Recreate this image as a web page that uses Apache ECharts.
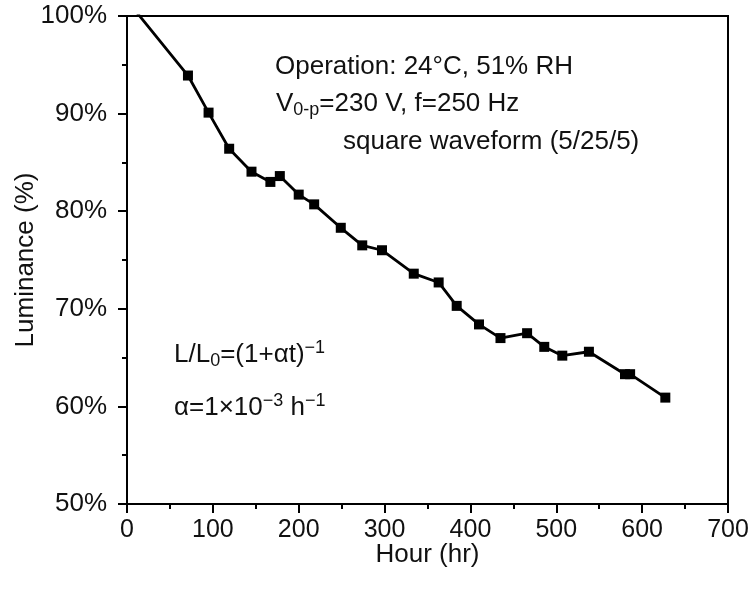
<!DOCTYPE html>
<html>
<head>
<meta charset="utf-8">
<script src="https://cdn.jsdelivr.net/npm/echarts@6/dist/echarts.min.js"></script>
<style>html,body{margin:0;padding:0;background:#fff}#c{width:753px;height:593px}</style>
</head>
<body>
<div id="c"></div>
<script>
var hours = [0, 71, 95, 119, 145, 167, 178, 200, 218, 249, 274, 297, 334, 363, 384, 410, 435, 466, 486, 507, 538, 580, 586, 627];
var luminance = [101.6, 93.9, 90.1, 86.4, 84.05, 83.0, 83.6, 81.7, 80.7, 78.3, 76.5, 76.0, 73.6, 72.7, 70.3, 68.4, 67.0, 67.5, 66.1, 65.2, 65.6, 63.3, 63.3, 60.9];
var xTicks = {min: 0, max: 700, interval: 100};
var yTicks = {min: 50, max: 100, interval: 10};

var FONT = '"Liberation Sans", Arial, sans-serif';
var points = hours.map(function (h, i) { return [h, luminance[i]]; });

var chart = echarts.init(document.getElementById('c'), null, {renderer: 'canvas'});
chart.setOption({
  animation: false,
  backgroundColor: '#fff',
  grid: {left: 127, right: 25, top: 16, bottom: 89, containLabel: false, outerBoundsMode: 'none',
    show: true, borderColor: '#000', borderWidth: 2, backgroundColor: 'transparent'},
  xAxis: {
    type: 'value', min: xTicks.min, max: xTicks.max, interval: xTicks.interval,
    name: 'Hour (hr)', nameLocation: 'middle', nameGap: 38, nameMoveOverlap: false,
    nameTextStyle: {fontFamily: FONT, fontSize: 26, color: '#111'},
    axisLine: {show: true, onZero: false, lineStyle: {color: '#000', width: 2}},
    axisTick: {show: true, inside: false, length: 9, lineStyle: {color: '#000', width: 2}},
    minorTick: {show: true, splitNumber: 2, length: 5, lineStyle: {color: '#000', width: 2}},
    axisLabel: {fontFamily: FONT, fontSize: 25, color: '#111', margin: 14},
    splitLine: {show: false}
  },
  yAxis: {
    type: 'value', min: yTicks.min, max: yTicks.max, interval: yTicks.interval,
    name: 'Luminance (%)', nameLocation: 'middle', nameGap: 88, nameRotate: 90, nameMoveOverlap: false,
    nameTextStyle: {fontFamily: FONT, fontSize: 26, color: '#111'},
    axisLine: {show: true, onZero: false, lineStyle: {color: '#000', width: 2}},
    axisTick: {show: true, inside: false, length: 9, lineStyle: {color: '#000', width: 2}},
    minorTick: {show: true, splitNumber: 2, length: 5, lineStyle: {color: '#000', width: 2}},
    axisLabel: {fontFamily: FONT, fontSize: 26, color: '#111', margin: 20, formatter: '{value}%'},
    splitLine: {show: false}
  },
  series: [{
    type: 'line',
    data: points,
    clip: true,
    symbol: 'rect',
    symbolSize: 10,
    showAllSymbol: true,
    itemStyle: {color: '#000'},
    lineStyle: {color: '#000', width: 2.8}
  }],
  graphic: [
    {type: 'text', left: 275, top: 54, style: {text: 'Operation: 24°C, 51% RH', font: '26px ' + FONT, fill: '#111'}},
    {type: 'text', left: 276, top: 91, style: {
      text: '{n|V}{sub|0-p}{n|=230 V, f=250 Hz}',
      rich: {n: {font: '26px ' + FONT, fill: '#111'}, sub: {font: '18px ' + FONT, fill: '#111', padding: [13, 0, 0, 0]}}
    }},
    {type: 'text', left: 343, top: 129, style: {text: 'square waveform (5/25/5)', font: '26px ' + FONT, fill: '#111'}},
    {type: 'text', left: 174, top: 339, style: {
      text: '{n|L/L}{sub|0}{n|=(1+αt)}{sup|−1}',
      rich: {n: {font: '26px ' + FONT, fill: '#111'}, sub: {font: '18px ' + FONT, fill: '#111', padding: [13, 0, 0, 0]}, sup: {font: '18px ' + FONT, fill: '#111', padding: [0, 0, 13, 0]}}
    }},
    {type: 'text', left: 174, top: 392, style: {
      text: '{n|α=1×10}{sup|−3}{n| h}{sup|−1}',
      rich: {n: {font: '26px ' + FONT, fill: '#111'}, sup: {font: '18px ' + FONT, fill: '#111', padding: [0, 0, 13, 0]}}
    }}
  ]
});
</script>
</body>
</html>
